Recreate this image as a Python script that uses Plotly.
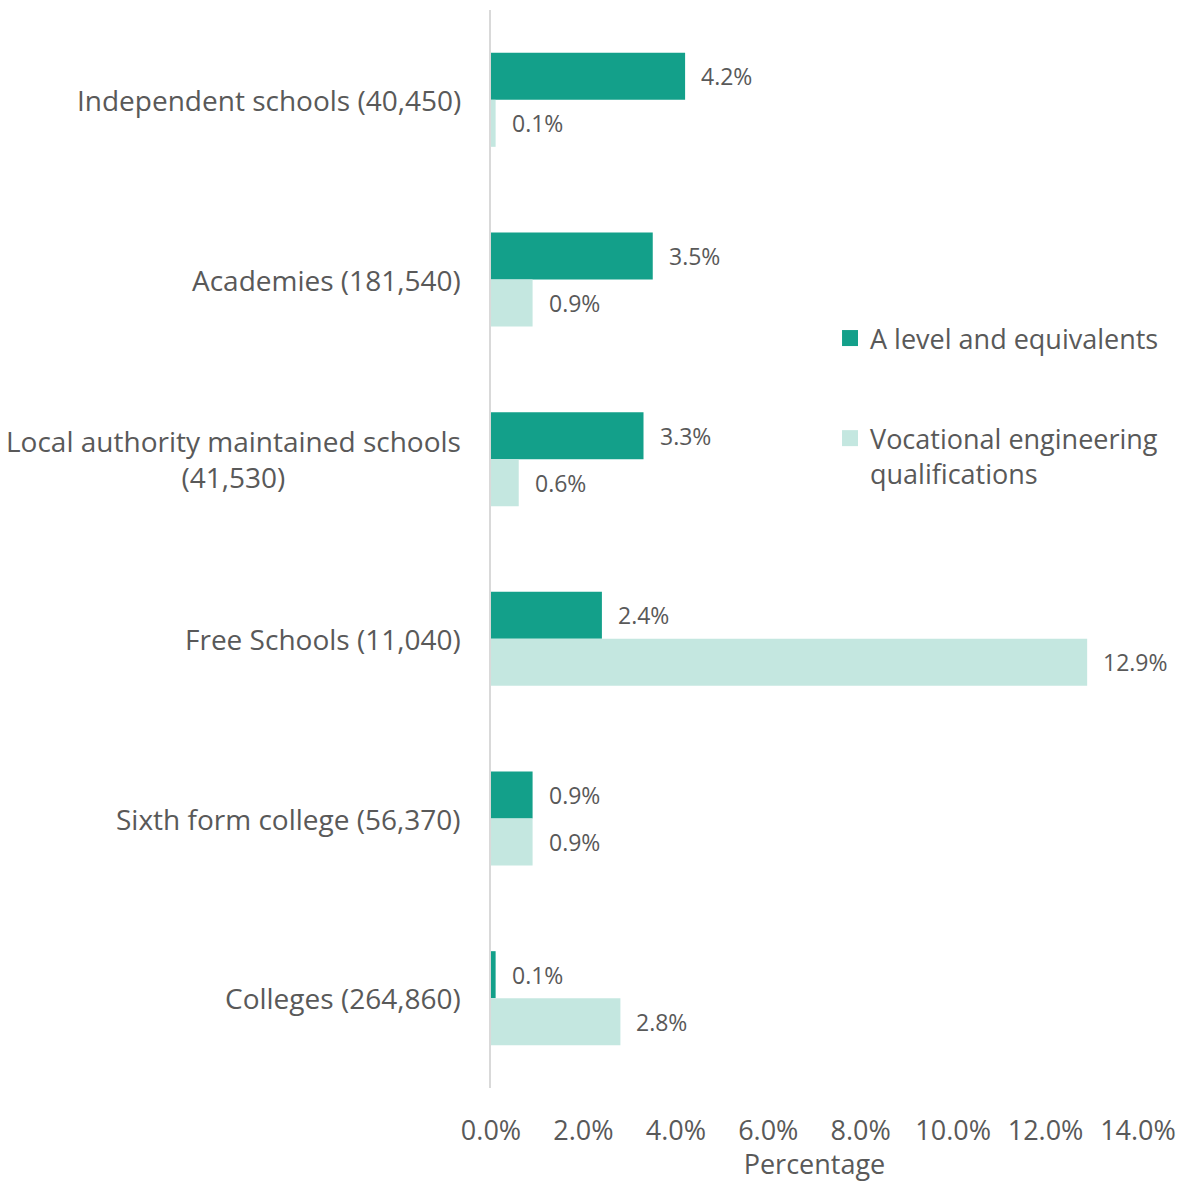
import plotly.graph_objects as go

# School type (cohort size) and percentage of students taking each route
categories = [
    "Independent schools (40,450)",
    "Academies (181,540)",
    "Local authority maintained schools<br>(41,530)",
    "Free Schools (11,040)",
    "Sixth form college (56,370)",
    "Colleges (264,860)",
]
a_level = [4.2, 3.5, 3.3, 2.4, 0.9, 0.1]
vocational = [0.1, 0.9, 0.6, 12.9, 0.9, 2.8]
series_names = ["A level and equivalents", "Vocational engineering<br>qualifications"]
x_ticks = [0, 2, 4, 6, 8, 10, 12, 14]
x_tick_labels = ["0.0%", "2.0%", "4.0%", "6.0%", "8.0%", "10.0%", "12.0%", "14.0%"]

FONT = "'Open Sans', sans-serif"
TEXT = "#595959"
DARK = "#13a08a"
LIGHT = "#c4e7e0"

fig = go.Figure()
for vals, color in [(a_level, DARK), (vocational, LIGHT)]:
    fig.add_trace(go.Bar(
        y=categories, x=vals, orientation="h",
        marker=dict(color=color, line=dict(width=0)), showlegend=False,
    ))
# legend keys drawn as larger square markers
for i, (name, color) in enumerate(zip(series_names, [DARK, LIGHT])):
    fig.add_trace(go.Scatter(
        x=[None], y=[None], mode="markers", name=name,
        marker=dict(symbol="square", size=17, color=color),
        legendgroup=f"g{i}",
    ))

annotations = []
# category labels, right-aligned against the axis line, lines centred
for cat in categories:
    annotations.append(dict(
        x=0, xref="paper", y=cat, yref="y", text=cat, showarrow=False,
        xanchor="right", yanchor="middle", align="center", xshift=-28,
        font=dict(family=FONT, size=28, color=TEXT),
    ))
# value labels just past the end of each bar
for vals, shift in [(a_level, 23.5), (vocational, -23.5)]:
    for cat, v in zip(categories, vals):
        annotations.append(dict(
            x=v, y=cat, xref="x", yref="y", text=f"{v:.1f}%", showarrow=False,
            xanchor="left", yanchor="middle", xshift=14, yshift=shift,
            font=dict(family=FONT, size=23, color=TEXT),
        ))

fig.update_layout(
    width=1188, height=1182,
    margin=dict(l=491, r=50, t=10, b=94),
    paper_bgcolor="white", plot_bgcolor="white",
    barmode="group", bargap=0.477, bargroupgap=0,
    font=dict(family=FONT, size=28, color=TEXT),
    showlegend=True,
    legend=dict(
        x=0.524, y=0.718, xanchor="left", yanchor="top",
        traceorder="grouped", tracegroupgap=62, valign="top",
        font=dict(family=FONT, size=27, color=TEXT),
        itemwidth=30, bgcolor="rgba(0,0,0,0)",
    ),
    annotations=annotations,
)
fig.update_xaxes(
    range=[0, 14], tickvals=x_ticks, ticktext=x_tick_labels,
    showgrid=False, zeroline=False, showline=False, ticks="",
    tickfont=dict(family=FONT, size=27, color=TEXT),
    ticklabelstandoff=24,
    title=dict(text="Percentage", font=dict(family=FONT, size=27, color=TEXT), standoff=7),
    automargin=False,
)
fig.update_yaxes(
    categoryorder="array", categoryarray=categories, autorange="reversed",
    showticklabels=False, showgrid=False, zeroline=False,
    showline=True, linecolor="#d9d9d9", linewidth=2, ticks="",
)

fig.write_html("out.html")
